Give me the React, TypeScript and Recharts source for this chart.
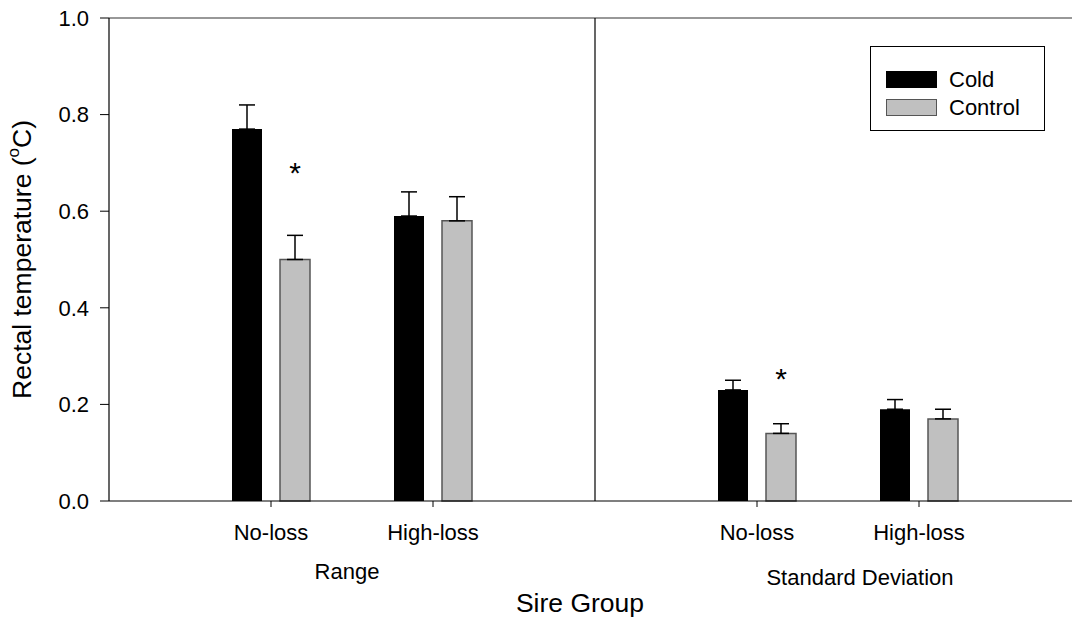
import React from 'react';
import { ComposedChart, Bar, ErrorBar, XAxis, YAxis, ReferenceLine, ReferenceDot } from 'recharts';

// x positions on a numeric axis: 0 = left edge, 3 = divider between the two measures
const positions = [1, 2, 4, 5];
const sireGroups = ['No-loss', 'High-loss', 'No-loss', 'High-loss'];
const coldValues = [0.77, 0.59, 0.23, 0.19];
const coldErrors = [0.05, 0.05, 0.02, 0.02];
const controlValues = [0.5, 0.58, 0.14, 0.17];
const controlErrors = [0.05, 0.05, 0.02, 0.02];
const yTicks = [0, 0.2, 0.4, 0.6, 0.8, 1.0];
const sigMarks = [
  { x: 1, y: 0.694 },
  { x: 4, y: 0.267 },
];
const seriesNames = ['Cold', 'Control'];

const data = positions.map((x, i) => ({
  x,
  group: sireGroups[i],
  cold: coldValues[i],
  coldErr: [0, coldErrors[i]],
  control: controlValues[i],
  controlErr: [0, controlErrors[i]],
}));

const FONT = '"Liberation Sans", Arial, sans-serif';
const BAR_SIZE = 30;
const BAR_GAP = 18;
const COLD_FILL = '#000';
const CONTROL_FILL = '#c0c0c0';

const tickLabel = (v: number) => {
  const i = positions.indexOf(v);
  return i >= 0 ? sireGroups[i] : '';
};

const YLabel = (props: any) => {
  const vb = props.viewBox || { x: 0, y: 18, width: 109, height: 483 };
  const cy = vb.y + vb.height / 2;
  return (
    <text
      transform={`translate(22, ${cy}) rotate(-90)`}
      textAnchor="middle"
      dominantBaseline="central"
      fontSize={26.5}
      fontFamily={FONT}
      fill="#000"
    >
      Rectal temperature (<tspan fontSize={17} dy={-9}>o</tspan>
      <tspan dy={9}>C)</tspan>
    </text>
  );
};

const Star = (props: any) => {
  const { cx, cy } = props;
  const fs = 30;
  return (
    <text
      x={cx + (BAR_SIZE + BAR_GAP) / 2}
      y={cy + fs * 0.58}
      textAnchor="middle"
      fontSize={fs}
      fontFamily={FONT}
      fill="#000"
    >
      *
    </text>
  );
};

const legendItems = [
  { name: seriesNames[0], fill: COLD_FILL, border: '1px solid #000' },
  { name: seriesNames[1], fill: CONTROL_FILL, border: '1.5px solid #555' },
];

const textStyle: React.CSSProperties = {
  position: 'absolute',
  transform: 'translate(-50%, -50%)',
  fontFamily: FONT,
  lineHeight: 1,
  whiteSpace: 'nowrap',
  color: '#000',
};

export default function App() {
  return (
    <div style={{ position: 'absolute', left: 0, top: 0, width: 1072, height: 622, background: '#fff', overflow: 'hidden' }}>
      <ComposedChart
        width={1072}
        height={622}
        data={data}
        margin={{ top: 18, right: 0, left: 0, bottom: 91 }}
        barGap={BAR_GAP}
      >
        <XAxis
          dataKey="x"
          type="number"
          domain={[0, 963 / 162]}
          allowDataOverflow
          ticks={positions}
          tickFormatter={tickLabel}
          height={30}
          tickSize={6}
          tickMargin={17}
          axisLine={{ stroke: '#000', strokeWidth: 1.2 }}
          tickLine={{ stroke: '#000' }}
          tick={{ fill: '#000', fontSize: 22, fontFamily: FONT }}
          interval={0}
        />
        <YAxis
          type="number"
          domain={[0, 1]}
          ticks={yTicks}
          tickFormatter={(v: number) => v.toFixed(1)}
          width={109}
          tickSize={9}
          tickMargin={11}
          axisLine={{ stroke: '#000', strokeWidth: 1.2 }}
          tickLine={{ stroke: '#000' }}
          tick={{ fill: '#000', fontSize: 22, fontFamily: FONT }}
          label={{ content: YLabel }}
        />
        <ReferenceLine y={1} stroke="#333" strokeWidth={1.2} />
        <ReferenceLine x={3} stroke="#000" strokeWidth={1.2} />
        <Bar dataKey="cold" name={seriesNames[0]} fill={COLD_FILL} barSize={BAR_SIZE} isAnimationActive={false}>
          <ErrorBar dataKey="coldErr" width={8} stroke="#000" strokeWidth={1.5} direction="y" />
        </Bar>
        <Bar
          dataKey="control"
          name={seriesNames[1]}
          fill={CONTROL_FILL}
          stroke="#555"
          strokeWidth={1.5}
          barSize={BAR_SIZE}
          isAnimationActive={false}
        >
          <ErrorBar dataKey="controlErr" width={8} stroke="#000" strokeWidth={1.5} direction="y" />
        </Bar>
        {sigMarks.map((m) => (
          <ReferenceDot key={m.x} x={m.x} y={m.y} r={0} shape={Star} />
        ))}
      </ComposedChart>

      {/* legend */}
      <div
        style={{
          position: 'absolute',
          left: 870,
          top: 46,
          width: 175,
          height: 85,
          boxSizing: 'border-box',
          border: '1.5px solid #000',
          background: '#fff',
          paddingTop: 19,
          paddingLeft: 15,
          fontFamily: FONT,
          fontSize: 22,
        }}
      >
        {legendItems.map((it) => (
          <div key={it.name} style={{ display: 'flex', alignItems: 'center', height: 27.7 }}>
            <span
              style={{
                display: 'inline-block',
                width: 51,
                height: 17,
                boxSizing: 'border-box',
                background: it.fill,
                border: it.border,
                marginRight: 12,
              }}
            />
            <span style={{ lineHeight: 1 }}>{it.name}</span>
          </div>
        ))}
      </div>

      <div style={{ ...textStyle, left: 347, top: 572, fontSize: 22 }}>Range</div>
      <div style={{ ...textStyle, left: 860, top: 578, fontSize: 22 }}>Standard Deviation</div>
      <div style={{ ...textStyle, left: 580, top: 603, fontSize: 26.5 }}>Sire Group</div>
    </div>
  );
}
